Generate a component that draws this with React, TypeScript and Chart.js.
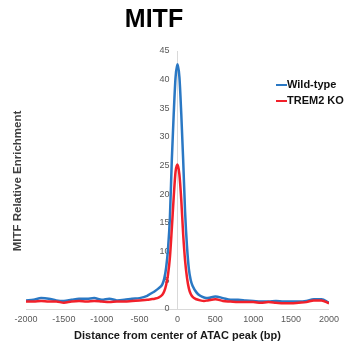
import React, { useEffect, useRef } from "react";
import { Chart, registerables } from "chart.js";

Chart.register(...registerables);

const chartTitle = "MITF";
const xTitle = "Distance from center of ATAC peak (bp)";
const yTitle = "MITF Relative Enrichment";
const seriesNames = ["Wild-type", "TREM2 KO"];
const seriesColors = ["#2a78c4", "#f2202a"];

const positions = [
  -2000, -1900, -1800, -1700, -1600, -1500, -1400, -1300, -1200, -1100, -1000, -900, -800, -700, -600, -500, -400,
  -350, -300, -250, -200, -175, -150, -125, -100, -75, -50, -25, 0, 25, 50, 75, 100, 125, 150, 175, 200, 250, 300, 350,
  400, 500, 600, 700, 800, 900, 1000, 1100, 1200, 1300, 1400, 1500, 1600, 1700, 1800, 1900, 2000,
];

const wildType = [
  1.5, 1.6, 1.9, 1.8, 1.5, 1.4, 1.6, 1.8, 1.8, 1.9, 1.6, 1.8, 1.5, 1.6, 1.8, 1.9, 2.3,
  2.7, 3.1, 3.6, 4.3, 5.3, 7.2, 10.5, 16, 26, 34, 40.5, 42.7, 40.5, 34, 26, 17, 11, 7, 5, 4, 2.9, 2.3, 2.0,
  1.9, 2.2, 1.9, 1.6, 1.6, 1.5, 1.4, 1.3, 1.3, 1.4, 1.3, 1.3, 1.3, 1.4, 1.7, 1.7, 1.1,
];

const trem2KO = [
  1.3, 1.3, 1.4, 1.3, 1.3, 1.1, 1.3, 1.4, 1.3, 1.4, 1.3, 1.2, 1.3, 1.3, 1.4, 1.5, 1.6,
  1.7, 1.8, 2.0, 2.5, 3.1, 4.2, 6, 9, 14, 19.5, 24, 25.2, 23.5, 19, 13, 8.5, 5.5, 3.6, 2.6, 2.1, 1.7, 1.5, 1.4,
  1.5, 1.7, 1.4, 1.3, 1.2, 1.2, 1.2, 1.1, 1.2, 1.1, 1.0, 1.0, 1.1, 1.2, 1.5, 1.5, 1.0,
];

const FONT = "'Liberation Sans', Arial, sans-serif";

const decorPlugin = {
  id: "decor",
  beforeDatasetsDraw(chart: any) {
    const ctx = chart.ctx;
    ctx.save();
    // y tick labels, placed left of the centred y axis (beneath the lines)
    const xs = chart.scales.x;
    const ys = chart.scales.y;
    const axisX = xs.getPixelForValue(0);
    ctx.fillStyle = "#595959";
    ctx.font = `9px ${FONT}`;
    ctx.textAlign = "right";
    ctx.textBaseline = "middle";
    ys.ticks.forEach((t: any) => {
      ctx.fillText(String(t.value), axisX - 8, ys.getPixelForValue(t.value));
    });
    ctx.restore();
  },
  afterDraw(chart: any) {
    const ctx = chart.ctx;
    ctx.save();
    // title
    ctx.fillStyle = "#000000";
    ctx.font = `bold 25px ${FONT}`;
    ctx.textAlign = "center";
    ctx.textBaseline = "alphabetic";
    ctx.fillText(chartTitle, 154, 27);
    // y title
    ctx.save();
    ctx.translate(18, 181);
    ctx.rotate(-Math.PI / 2);
    ctx.fillStyle = "#404040";
    ctx.font = `bold 11.5px ${FONT}`;
    ctx.textAlign = "center";
    ctx.textBaseline = "middle";
    ctx.fillText(yTitle, 0, 0);
    ctx.restore();
    // legend
    const rows = [85, 101];
    seriesNames.forEach((name, i) => {
      const y = rows[i];
      ctx.strokeStyle = seriesColors[i];
      ctx.lineWidth = 2;
      ctx.beginPath();
      ctx.moveTo(276, y);
      ctx.lineTo(287, y);
      ctx.stroke();
      ctx.fillStyle = "#111111";
      ctx.font = `bold 11px ${FONT}`;
      ctx.textAlign = "left";
      ctx.textBaseline = "middle";
      ctx.fillText(name, 287, y);
    });
    ctx.restore();
  },
};

export default function App() {
  const ref = useRef<HTMLCanvasElement | null>(null);

  useEffect(() => {
    if (!ref.current) return;
    const mk = (vals: number[]) => positions.map((x, i) => ({ x, y: vals[i] }));
    const chart = new Chart(ref.current, {
      type: "line",
      data: {
        datasets: [
          {
            label: seriesNames[0],
            data: mk(wildType),
            borderColor: seriesColors[0],
            borderWidth: 2.5,
            pointRadius: 0,
            cubicInterpolationMode: "monotone",
            fill: false,
            order: 1,
          },
          {
            label: seriesNames[1],
            data: mk(trem2KO),
            borderColor: seriesColors[1],
            borderWidth: 2.5,
            pointRadius: 0,
            cubicInterpolationMode: "monotone",
            fill: false,
            order: 0,
          },
        ],
      },
      options: {
        animation: false,
        responsive: false,
        maintainAspectRatio: false,
        layout: { padding: { left: 26, right: 14, top: 51, bottom: 5 } },
        plugins: {
          legend: { display: false },
          title: { display: false },
          tooltip: { enabled: false },
        },
        scales: {
          x: {
            type: "linear",
            min: -2000,
            max: 2000,
            grid: { display: false, drawTicks: false },
            border: { display: true, color: "#d9d9d9", width: 1 },
            ticks: {
              stepSize: 500,
              padding: 5,
              color: "#595959",
              font: { family: FONT, size: 9 },
              maxRotation: 0,
              callback: (v: any) => String(v),
            },
            title: {
              display: true,
              text: xTitle,
              color: "#1a1a1a",
              font: { family: FONT, size: 11, weight: "bold" },
              padding: { top: 0, bottom: 0 },
            },
          },
          y: {
            type: "linear",
            position: { x: 0 },
            min: 0,
            max: 45,
            grid: { display: false, drawTicks: false },
            border: { display: true, color: "#d9d9d9", width: 1 },
            ticks: {
              stepSize: 5,
              display: false,
            },
          },
        },
      },
      plugins: [decorPlugin],
    } as any);
    return () => chart.destroy();
  }, []);

  return (
    <div style={{ position: "absolute", left: 0, top: 0, width: 344, height: 348, background: "#ffffff" }}>
      <canvas ref={ref} width={344} height={348} />
    </div>
  );
}
